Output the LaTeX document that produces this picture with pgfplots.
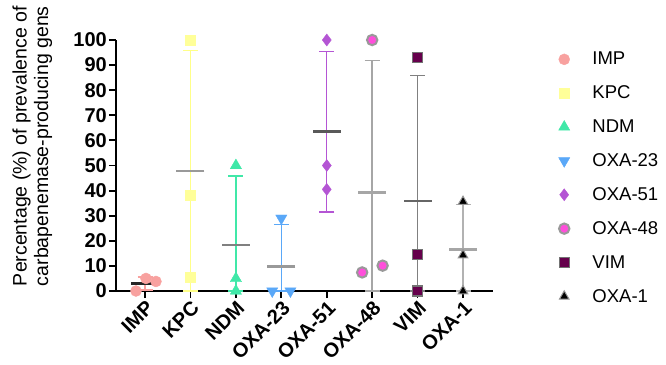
\documentclass[border=0pt]{standalone}
\usepackage{fontspec}
\setmainfont{Liberation Sans}
\usepackage{pgfplots}
\pgfplotsset{compat=1.18}
\usetikzlibrary{calc}
\definecolor{cIMP}{HTML}{F8A19F}
\definecolor{cKPC}{HTML}{FFFF99}
\definecolor{cKPCbar}{HTML}{FFFF88}
\definecolor{cNDM}{HTML}{40E8A8}
\definecolor{cOXAa}{HTML}{5AA8F8}
\definecolor{cOXAb}{HTML}{B455D4}
\definecolor{cOXAc}{HTML}{FF4FDB}
\definecolor{cVIM}{HTML}{66004C}
\newcommand{\grp}[6]{%
  \addplot[forget plot, draw=none, mark=none,
    error bars/.cd, y dir=both, y explicit,
    error bar style={line width=1.4pt, draw=#5},
    error mark options={rotate=90, mark size=7.5pt, line width=1.4pt, draw=#5}]
    coordinates {(#1,#2) += (0,#3) -= (0,#4)};
  \addplot[forget plot, only marks, mark=-, mark size=14pt,
    mark options={line width=2.5pt, draw=#6}] coordinates {(#1,#2)};
}
\begin{document}
\begin{tikzpicture}
\begin{axis}[
  scale only axis, width=377pt, height=251pt,
  xmin=-0.64, xmax=7.66, ymin=0, ymax=100,
  clip=false,
  axis lines=left,
  axis line style={-, line width=1.8pt, black},
  xtick={0,...,7},
  xticklabels={IMP,KPC,NDM,OXA-23,OXA-51,OXA-48,VIM,OXA-1},
  ytick={0,10,...,100},
  tick align=outside, major tick length=7pt,
  tick style={line width=1.8pt, black},
  /pgf/number format/assume math mode=true,
  ticklabel style={font=\fontsize{20}{20}\selectfont\bfseries},
  yticklabel style={inner xsep=2pt},
  xticklabel style={rotate=45, anchor=north east, inner sep=1pt},
  ylabel={Percentage (\%) of prevalence of\\carbapenemase-producing gens},
  every axis y label/.style={at={(axis description cs:-0.222,0.577)}, rotate=90, anchor=center, align=center, font=\fontsize{19.5}{21.5}\selectfont},
  scat/.style={only marks, legend image code/.code={\path (-6pt,0pt) (26pt,0pt); \draw[##1] plot coordinates {(0pt,0pt)};}},
  legend style={at={(axis description cs:1.172,0.96)}, anchor=north west, draw=none, fill=none,
    font=\fontsize{18.5}{18.5}\selectfont, row sep=15.5pt, inner sep=0pt, cells={anchor=west}},
]
% error bars and mean lines: x, mean, +err, -err, bar colour, mean colour
\grp{0}{2.93}{2.6}{2.6}{cIMP}{black!85}
\grp{1}{47.8}{48.0}{47.8}{cKPCbar}{black!40}
\grp{2}{18.33}{27.5}{18.33}{cNDM}{black!50}
\grp{3}{9.67}{16.74}{9.67}{cOXAa}{black!40}
\grp{4}{63.5}{32.0}{32.0}{cOXAb}{black!65}
\grp{5}{39.17}{52.7}{39.17}{black!35}{black!35}
\grp{6}{35.9}{50.0}{35.9}{black!50}{black!60}
\grp{7}{16.63}{17.9}{16.63}{black!30}{black!35}
% individual values
\addplot[scat, mark=*, mark size=5.5pt, mark options={fill=cIMP, draw=cIMP}]
  coordinates {(-0.2,0) (0.02,5) (0.24,3.8)};
\addlegendentry{IMP}
\addplot[scat, mark=square*, mark size=5pt, mark options={fill=cKPC, draw=cKPC}]
  coordinates {(1,100) (1,38) (1,5.5)};
\addlegendentry{KPC}
\addplot[scat, mark=triangle*, mark size=6.5pt, mark options={fill=cNDM, draw=cNDM}]
  coordinates {(2,50) (2,5) (2,0)};
\addlegendentry{NDM}
\addplot[scat, mark=triangle*, mark size=6.5pt, mark options={fill=cOXAa, draw=cOXAa, rotate=180}]
  coordinates {(2.8,0) (3,29) (3.2,0)};
\addlegendentry{OXA-23}
\addplot[scat, mark=diamond*, mark size=6pt, mark options={fill=cOXAb, draw=cOXAb}]
  coordinates {(4,100) (4,50) (4,40.5)};
\addlegendentry{OXA-51}
\addplot[scat, mark=*, mark size=5.2pt, mark options={fill=cOXAc, draw=black!40, line width=2pt}]
  coordinates {(4.78,7.4) (5,100) (5.23,10.1)};
\addlegendentry{OXA-48}
\addplot[scat, mark=square*, mark size=5pt, mark options={fill=cVIM, draw=black!55, line width=1.2pt}]
  coordinates {(6,93) (6,14.7) (6,0)};
\addlegendentry{VIM}
\addplot[scat, mark=triangle*, mark size=5.5pt, mark options={fill=black, draw=black!40, line width=1pt}]
  coordinates {(7,35.6) (7,14.3) (7,0)};
\addlegendentry{OXA-1}
\end{axis}
\pgfresetboundingbox
\path[use as bounding box] ($(current axis.south west)+(-116pt,-73pt)$) rectangle ++(666pt,364pt);
\end{tikzpicture}
\end{document}
